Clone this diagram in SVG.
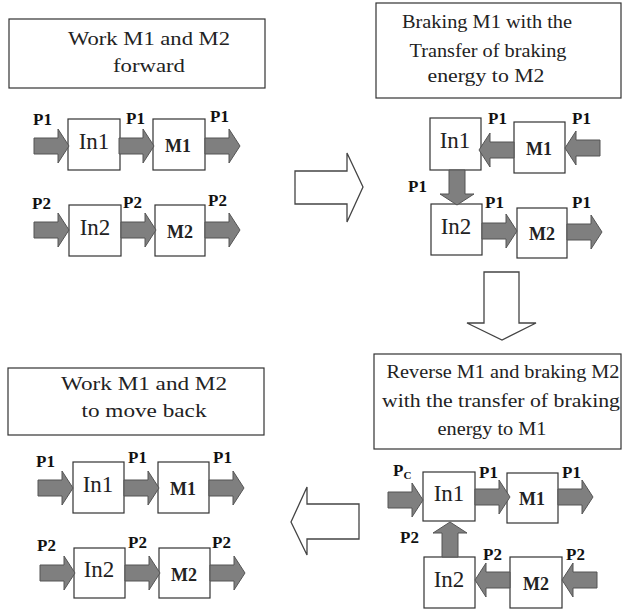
<svg xmlns="http://www.w3.org/2000/svg" xmlns:xlink="http://www.w3.org/1999/xlink" width="622" height="610" viewBox="0 0 622 610">
<style>
.bg{fill:#ffffff}
.box{fill:#ffffff;stroke:#333333;stroke-width:1.2}
text{font-family:"Liberation Serif","DejaVu Serif",serif}
.title{font-size:19px;fill:#222222;text-anchor:middle}
.in{font-size:23px;fill:#222222;text-anchor:middle}
.m{font-size:18px;font-weight:bold;fill:#222222;text-anchor:middle}
.lbl{font-size:17px;font-weight:bold;fill:#111111}
.ga{fill:#7f7f7f;stroke:#555555;stroke-width:1}
.ha{fill:#ffffff;stroke:#444444;stroke-width:1.3}
</style>
<defs>
<path id="ga" class="ga" d="M0,-8 H24 V-17 L35,0 L24,17 V8 H0 Z"/>
</defs>
<rect class="bg" x="0" y="0" width="622" height="610"/>

<!-- Panel 1 -->
<g id="title1">
<rect class="box" x="9" y="19" width="256" height="69"/>
<text class="title" x="149" y="45" textLength="162" lengthAdjust="spacingAndGlyphs">Work M1 and M2</text>
<text class="title" x="149" y="72" textLength="72" lengthAdjust="spacingAndGlyphs">forward</text>
</g>
<g id="p1-in1"><rect class="box" x="68" y="119" width="52" height="51"/><text class="in" x="94" y="149">In1</text></g>
<g id="p1-m1"><rect class="box" x="153" y="119" width="52" height="51"/><text class="m" x="178" y="152">M1</text></g>
<g id="p1-in2"><rect class="box" x="69" y="205" width="52" height="51"/><text class="in" x="95" y="235">In2</text></g>
<g id="p1-m2"><rect class="box" x="155" y="205" width="50" height="51"/><text class="m" x="180" y="238">M2</text></g>

<!-- Panel 2 -->
<g id="title2">
<rect class="box" x="376" y="3" width="245" height="95"/>
<text class="title" x="487" y="28" textLength="170" lengthAdjust="spacingAndGlyphs">Braking M1 with the</text>
<text class="title" x="488" y="57" textLength="157" lengthAdjust="spacingAndGlyphs">Transfer of braking</text>
<text class="title" x="486" y="82" textLength="117" lengthAdjust="spacingAndGlyphs">energy to M2</text>
</g>
<g id="p2-in1"><rect class="box" x="430" y="118" width="51" height="52"/><text class="in" x="455" y="148">In1</text></g>
<g id="p2-m1"><rect class="box" x="514" y="122" width="51" height="51"/><text class="m" x="539" y="155">M1</text></g>
<g id="p2-in2"><rect class="box" x="431" y="204" width="51" height="51"/><text class="in" x="456" y="234">In2</text></g>
<g id="p2-m2"><rect class="box" x="517" y="208" width="50" height="50"/><text class="m" x="542" y="240">M2</text></g>

<!-- Panel 3 -->
<g id="title3">
<rect class="box" x="374" y="354" width="247" height="95"/>
<text class="title" x="503" y="378" textLength="233" lengthAdjust="spacingAndGlyphs">Reverse M1 and braking M2</text>
<text class="title" x="501" y="407" textLength="238" lengthAdjust="spacingAndGlyphs">with the transfer of braking</text>
<text class="title" x="492" y="435" textLength="109" lengthAdjust="spacingAndGlyphs">energy to M1</text>
</g>
<g id="p3-in1"><rect class="box" x="423" y="472" width="52" height="49"/><text class="in" x="449" y="501">In1</text></g>
<g id="p3-m1"><rect class="box" x="507" y="473" width="51" height="50"/><text class="m" x="532" y="505">M1</text></g>
<g id="p3-in2"><rect class="box" x="424" y="557" width="51" height="51"/><text class="in" x="449" y="587">In2</text></g>
<g id="p3-m2"><rect class="box" x="510" y="557" width="52" height="51"/><text class="m" x="536" y="590">M2</text></g>

<!-- Panel 4 -->
<g id="title4">
<rect class="box" x="8" y="368" width="256" height="67"/>
<text class="title" x="144" y="390" textLength="166" lengthAdjust="spacingAndGlyphs">Work M1 and M2</text>
<text class="title" x="144" y="417" textLength="125" lengthAdjust="spacingAndGlyphs">to move back</text>
</g>
<g id="p4-in1"><rect class="box" x="73" y="462" width="51" height="51"/><text class="in" x="98" y="492">In1</text></g>
<g id="p4-m1"><rect class="box" x="158" y="462" width="51" height="51"/><text class="m" x="183" y="495">M1</text></g>
<g id="p4-in2"><rect class="box" x="74" y="548" width="51" height="50"/><text class="in" x="99" y="577">In2</text></g>
<g id="p4-m2"><rect class="box" x="159" y="548" width="51" height="50"/><text class="m" x="184" y="581">M2</text></g>

<g id="connectors">
<!-- hollow transition arrows -->
<path class="ha" d="M295,171 H347 V153 L363,187 L347,222 V204 H295 Z"/>
<path class="ha" d="M484,272 H519 V323 H536 L502,340 L467,323 H484 Z"/>
<path class="ha" d="M359,504 H307 V487 L291,522 L307,555 V539 H359 Z"/>

<!-- panel 1 -->
<use xlink:href="#ga" href="#ga" transform="translate(34,146)"/>
<use xlink:href="#ga" href="#ga" transform="translate(119,146)"/>
<use xlink:href="#ga" href="#ga" transform="translate(205,146)"/>
<use xlink:href="#ga" href="#ga" transform="translate(34,230)"/>
<use xlink:href="#ga" href="#ga" transform="translate(121,230)"/>
<use xlink:href="#ga" href="#ga" transform="translate(205,230)"/>
<text class="lbl" x="33" y="125">P1</text>
<text class="lbl" x="126" y="124">P1</text>
<text class="lbl" x="210" y="122">P1</text>
<text class="lbl" x="32" y="209">P2</text>
<text class="lbl" x="123" y="208">P2</text>
<text class="lbl" x="208" y="206">P2</text>

<!-- panel 2 -->
<use xlink:href="#ga" href="#ga" transform="translate(514,150) scale(-1,1)"/>
<use xlink:href="#ga" href="#ga" transform="translate(600,148) scale(-1,1)"/>
<use xlink:href="#ga" href="#ga" transform="translate(457,170) rotate(90)"/>
<use xlink:href="#ga" href="#ga" transform="translate(482,231)"/>
<use xlink:href="#ga" href="#ga" transform="translate(567,232)"/>
<text class="lbl" x="488" y="124">P1</text>
<text class="lbl" x="572" y="124">P1</text>
<text class="lbl" x="408" y="192">P1</text>
<text class="lbl" x="485" y="208">P1</text>
<text class="lbl" x="572" y="208">P1</text>

<!-- panel 3 -->
<use xlink:href="#ga" href="#ga" transform="translate(388,500)"/>
<use xlink:href="#ga" href="#ga" transform="translate(475,497)"/>
<use xlink:href="#ga" href="#ga" transform="translate(558,497)"/>
<use xlink:href="#ga" href="#ga" transform="translate(450,557) rotate(-90)"/>
<use xlink:href="#ga" href="#ga" transform="translate(510,580) scale(-1,1)"/>
<use xlink:href="#ga" href="#ga" transform="translate(597,580) scale(-1,1)"/>
<text class="lbl" x="393" y="476">P<tspan font-size="11" dy="3">C</tspan></text>
<text class="lbl" x="479" y="478">P1</text>
<text class="lbl" x="562" y="478">P1</text>
<text class="lbl" x="400" y="543">P2</text>
<text class="lbl" x="483" y="560">P2</text>
<text class="lbl" x="566" y="560">P2</text>

<!-- panel 4 -->
<use xlink:href="#ga" href="#ga" transform="translate(38,488)"/>
<use xlink:href="#ga" href="#ga" transform="translate(124,488)"/>
<use xlink:href="#ga" href="#ga" transform="translate(209,488)"/>
<use xlink:href="#ga" href="#ga" transform="translate(40,573)"/>
<use xlink:href="#ga" href="#ga" transform="translate(125,573)"/>
<use xlink:href="#ga" href="#ga" transform="translate(210,573)"/>
<text class="lbl" x="36" y="467">P1</text>
<text class="lbl" x="128" y="463">P1</text>
<text class="lbl" x="213" y="463">P1</text>
<text class="lbl" x="37" y="551">P2</text>
<text class="lbl" x="128" y="548">P2</text>
<text class="lbl" x="212" y="548">P2</text>
</g>
</svg>
